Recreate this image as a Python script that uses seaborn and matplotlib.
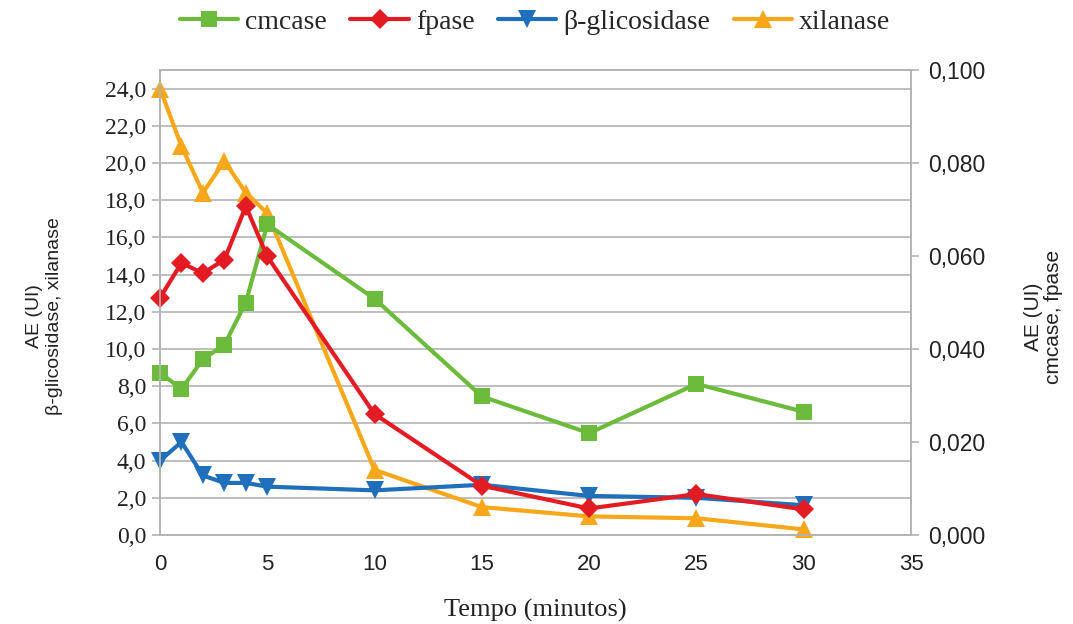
import matplotlib
matplotlib.use("Agg")
import matplotlib.pyplot as plt
from matplotlib.ticker import FuncFormatter, MultipleLocator
import seaborn as sns
import pandas as pd

# Sampling times (minutes)
tempo = [0, 1, 2, 3, 4, 5, 10, 15, 20, 25, 30]

# Enzyme activity, left axis (UI)
beta_glicosidase = [4.0, 5.0, 3.2, 2.8, 2.8, 2.6, 2.4, 2.7, 2.1, 2.0, 1.6]
xilanase = [24.0, 20.9, 18.4, 20.1, 18.4, 17.3, 3.5, 1.5, 1.0, 0.9, 0.3]

# Enzyme activity, right axis (UI)
cmcase = [0.0349, 0.0314, 0.0378, 0.0409, 0.0500, 0.0668, 0.0508, 0.0298, 0.0219, 0.0325, 0.0265]
fpase = [0.0510, 0.0585, 0.0563, 0.0592, 0.0707, 0.0599, 0.0260, 0.0106, 0.0057, 0.0088, 0.0055]

COL_CMC = "#6cbb3c"
COL_FP = "#e31b23"
COL_BG = "#1f6fba"
COL_XIL = "#f6a71a"
GRID = "#b3b3b3"
TXT = "#222222"

sns.set_theme(style="white")
serif = ["Liberation Serif", "DejaVu Serif"]
sans = ["Liberation Sans", "DejaVu Sans"]

fig = plt.figure(figsize=(10.73, 6.24), dpi=100)
ax = fig.add_axes([160 / 1073, 1 - 535 / 624, 751 / 1073, 465 / 624])
ax2 = ax.twinx()

df = pd.DataFrame({"tempo": tempo, "bg": beta_glicosidase, "xil": xilanase,
                   "cmc": cmcase, "fp": fpase})

lw = 3.0
common = dict(lw=lw, markeredgewidth=0, legend=False, clip_on=False)
sns.lineplot(data=df, x="tempo", y="xil", ax=ax, color=COL_XIL,
             marker="^", markersize=13, label="xilanase", **common)
sns.lineplot(data=df, x="tempo", y="bg", ax=ax, color=COL_BG,
             marker="v", markersize=13, label="β-glicosidase", **common)
sns.lineplot(data=df, x="tempo", y="cmc", ax=ax2, color=COL_CMC,
             marker="s", markersize=12, label="cmcase", **common)
sns.lineplot(data=df, x="tempo", y="fp", ax=ax2, color=COL_FP,
             marker="D", markersize=10, label="fpase", **common)

ax.set_xlim(0, 35)
ax.set_ylim(0, 25)
ax2.set_ylim(0, 0.1)
ax.xaxis.set_major_locator(MultipleLocator(5))
ax.set_yticks([i * 2 for i in range(13)])
ax2.set_yticks([0, 0.02, 0.04, 0.06, 0.08, 0.10])

ax.yaxis.set_major_formatter(FuncFormatter(lambda v, p: f"{v:.1f}".replace(".", ",")))
ax2.yaxis.set_major_formatter(FuncFormatter(lambda v, p: f"{v:.3f}".replace(".", ",")))

ax.grid(axis="y", color=GRID, lw=1.2)
ax.set_axisbelow(True)
for a in (ax, ax2):
    for s in a.spines.values():
        s.set_color(GRID)
        s.set_linewidth(1.2)

ax.tick_params(axis="both", which="major", length=6, width=1.2, color=GRID,
               direction="out")
ax.tick_params(axis="y", labelsize=17, labelcolor=TXT, pad=4)
ax.tick_params(axis="x", labelsize=16, labelcolor=TXT, pad=8)
ax2.tick_params(axis="y", length=6, width=1.2, color=GRID, direction="out",
                labelsize=16.5, labelcolor=TXT, pad=6)
for lab in ax.get_yticklabels():
    lab.set_family(serif)
for lab in ax.get_xticklabels() + ax2.get_yticklabels():
    lab.set_family(sans)

ax.set_xlabel("Tempo (minutos)", family=serif, fontsize=19, color=TXT)
ax.xaxis.set_label_coords(0.5, -(599 - 535) / 465)
ax.set_ylabel("AE (UI)\nβ-glicosidase, xilanase", family=sans, fontsize=14,
              color=TXT, linespacing=1.2)
ax.yaxis.set_label_coords((63 - 160) / 751, 0.47)
ax2.set_ylabel("AE (UI)\ncmcase, fpase", family=sans, fontsize=15, color=TXT,
               rotation=90, linespacing=1.05)
ax2.yaxis.set_label_coords((1024 - 160) / 751, 0.47)

h1, l1 = ax.get_legend_handles_labels()
h2, l2 = ax2.get_legend_handles_labels()
handles = [h2[0], h2[1], h1[1], h1[0]]
labels = [l2[0], l2[1], l1[1], l1[0]]
fig.legend(handles, labels, loc="center", bbox_to_anchor=(535 / 1073, 1 - 22 / 624),
           ncol=4, frameon=False, prop={"family": serif, "size": 20},
           handlelength=2.1, handletextpad=0.25, columnspacing=0.85)

fig.savefig("out.png", dpi=100)
